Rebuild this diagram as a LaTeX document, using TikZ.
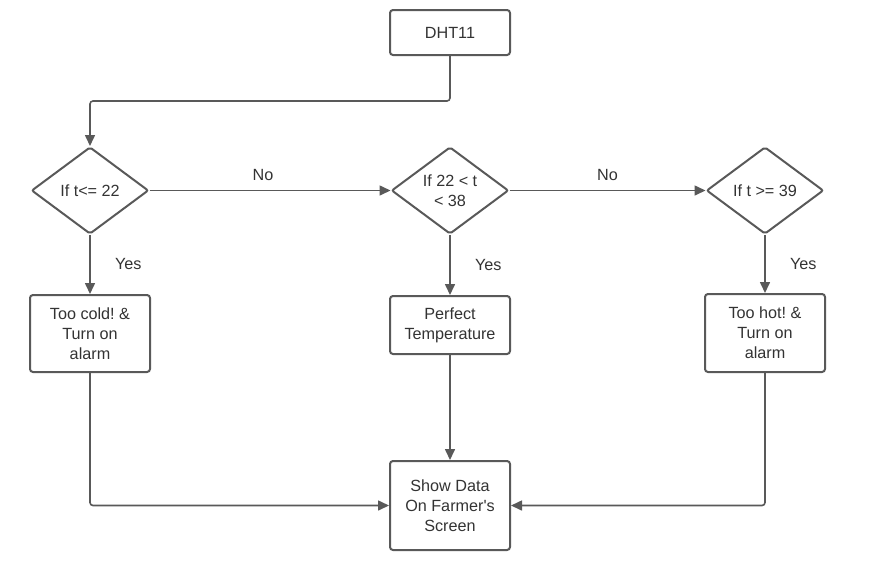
\documentclass[tikz,border=0pt]{standalone}
\usepackage{fontspec}
\setmainfont{Liberation Sans}
\usetikzlibrary{shapes.geometric,arrows.meta}
\definecolor{ln}{HTML}{595959}
\definecolor{tx}{HTML}{333333}
\frenchspacing
\tikzset{
  every node/.style={font=\fontsize{16.2}{20}\selectfont, text=tx},
  box/.style={draw=ln, line width=2pt, rounded corners=3pt, minimum width=120pt, align=center, inner sep=0pt},
  dec/.style={draw=ln, line width=2pt, diamond, minimum width=117pt, minimum height=87pt, align=center, inner sep=0pt, rounded corners=2pt},
  conn/.style={draw=ln, line width=1.6pt, rounded corners=3pt, -{Triangle[length=11pt,width=10pt]}},
  lbl/.style={font=\fontsize{16.2}{20}\selectfont}
}
\begin{document}
\begin{tikzpicture}[x=1pt,y=-1pt]
\useasboundingbox (0,0) rectangle (871,571);
\node[box, minimum height=45pt] (dht) at (450,32.5) {DHT11};
\node[dec] (d1) at (90,190.5) {If t<= 22};
\node[dec] (d2) at (450,190.5) {If 22 < t\\< 38};
\node[dec] (d3) at (765,190.5) {If t >= 39};
\node[box, minimum height=77pt] (cold) at (90,333.5) {Too cold! \&\\Turn on\\alarm};
\node[box, minimum height=58pt] (perf) at (450,325) {Perfect\\Temperature};
\node[box, minimum height=78pt] (hot) at (765,333) {Too hot! \&\\Turn on\\alarm};
\node[box, minimum height=89pt] (show) at (450,505.5) {Show Data\\On Farmer\textquotesingle s\\Screen};
\coordinate (c1) at (450,101);
\coordinate (c2) at (90,101);
\draw[conn] (dht.south) -- (c1) -- (c2) -- (d1.north);
\draw[conn] (d1.east) -- node[lbl, above=6pt, xshift=-7pt] {No} (d2.west);
\draw[conn] (d2.east) -- node[lbl, above=6pt] {No} (d3.west);
\draw[conn] (d1.south) -- node[lbl, right=21pt] {Yes} (cold.north);
\draw[conn] (d2.south) -- node[lbl, right=21pt] {Yes} (perf.north);
\draw[conn] (d3.south) -- node[lbl, right=21pt] {Yes} (hot.north);
\draw[conn] (perf.south) -- (show.north);
\draw[conn] (cold.south) |- (show.west);
\draw[conn] (hot.south) |- (show.east);
\end{tikzpicture}
\end{document}
